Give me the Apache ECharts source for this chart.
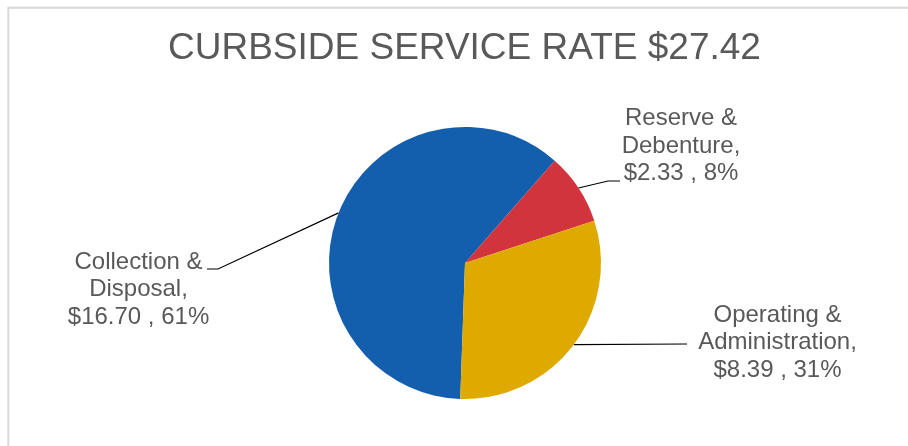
<!DOCTYPE html>
<html>
<head>
<meta charset="utf-8">
<script src="https://cdn.jsdelivr.net/npm/echarts@6/dist/echarts.min.js"></script>
<style>
html,body{margin:0;padding:0;background:#ffffff;}
#chart{width:908px;height:446px;}
</style>
</head>
<body>
<div id="chart"></div>
<script>
// ---- data ----
const titleText = 'CURBSIDE SERVICE RATE $27.42';
const categories = ['Collection & Disposal', 'Reserve & Debenture', 'Operating & Administration'];
const values = [16.70, 2.33, 8.39];

// ---- styling / layout ----
const sliceColors = ['#135FAD', '#D1343D', '#DEAA00'];
const textColor = '#595959';
const fontFamily = '"Liberation Sans", Arial, sans-serif';
const labelCenters = [[138.5, 289.5], [681, 146], [777.5, 342.5]];
const leaderBends = [[218, 269], [608, 181], [687, 344]];
const leaderEnds = [[207, 269], [620, 181], [687, 344]];

const total = values.reduce(function (a, b) { return a + b; }, 0);

const chart = echarts.init(document.getElementById('chart'), null, { renderer: 'canvas' });

chart.setOption({
  animation: false,
  backgroundColor: '#ffffff',
  title: {
    text: titleText,
    left: 163,
    top: 25,
    textStyle: {
      color: textColor,
      fontSize: 37,
      fontWeight: 'normal',
      fontFamily: fontFamily
    }
  },
  graphic: [{
    type: 'rect',
    silent: true,
    shape: { x: 8.3, y: 7.7, width: 1000, height: 1000 },
    style: { fill: 'none', stroke: '#D9D9D9', lineWidth: 2 }
  }],
  series: [{
    type: 'pie',
    center: [465, 263],
    radius: 136,
    startAngle: -92,
    clockwise: true,
    silent: true,
    avoidLabelOverlap: false,
    data: categories.map(function (c, i) {
      return { name: c, value: values[i], itemStyle: { color: sliceColors[i] } };
    }),
    label: {
      show: true,
      position: 'outside',
      color: textColor,
      fontSize: 24,
      lineHeight: 27.5,
      fontFamily: fontFamily,
      formatter: function (p) {
        return p.name.replace(' & ', ' &\n') + ',\n$' + p.value.toFixed(2) + ' , ' +
          Math.round(p.value / total * 100) + '%';
      }
    },
    labelLine: {
      show: true,
      lineStyle: { color: '#000000', width: 1.2 }
    },
    labelLayout: function (params) {
      const i = params.dataIndex;
      const out = {
        x: labelCenters[i][0],
        y: labelCenters[i][1],
        align: 'center',
        verticalAlign: 'middle'
      };
      if (params.labelLinePoints && params.labelLinePoints.length) {
        out.labelLinePoints = [params.labelLinePoints[0], leaderBends[i], leaderEnds[i]];
      }
      return out;
    }
  }]
});
</script>
</body>
</html>
